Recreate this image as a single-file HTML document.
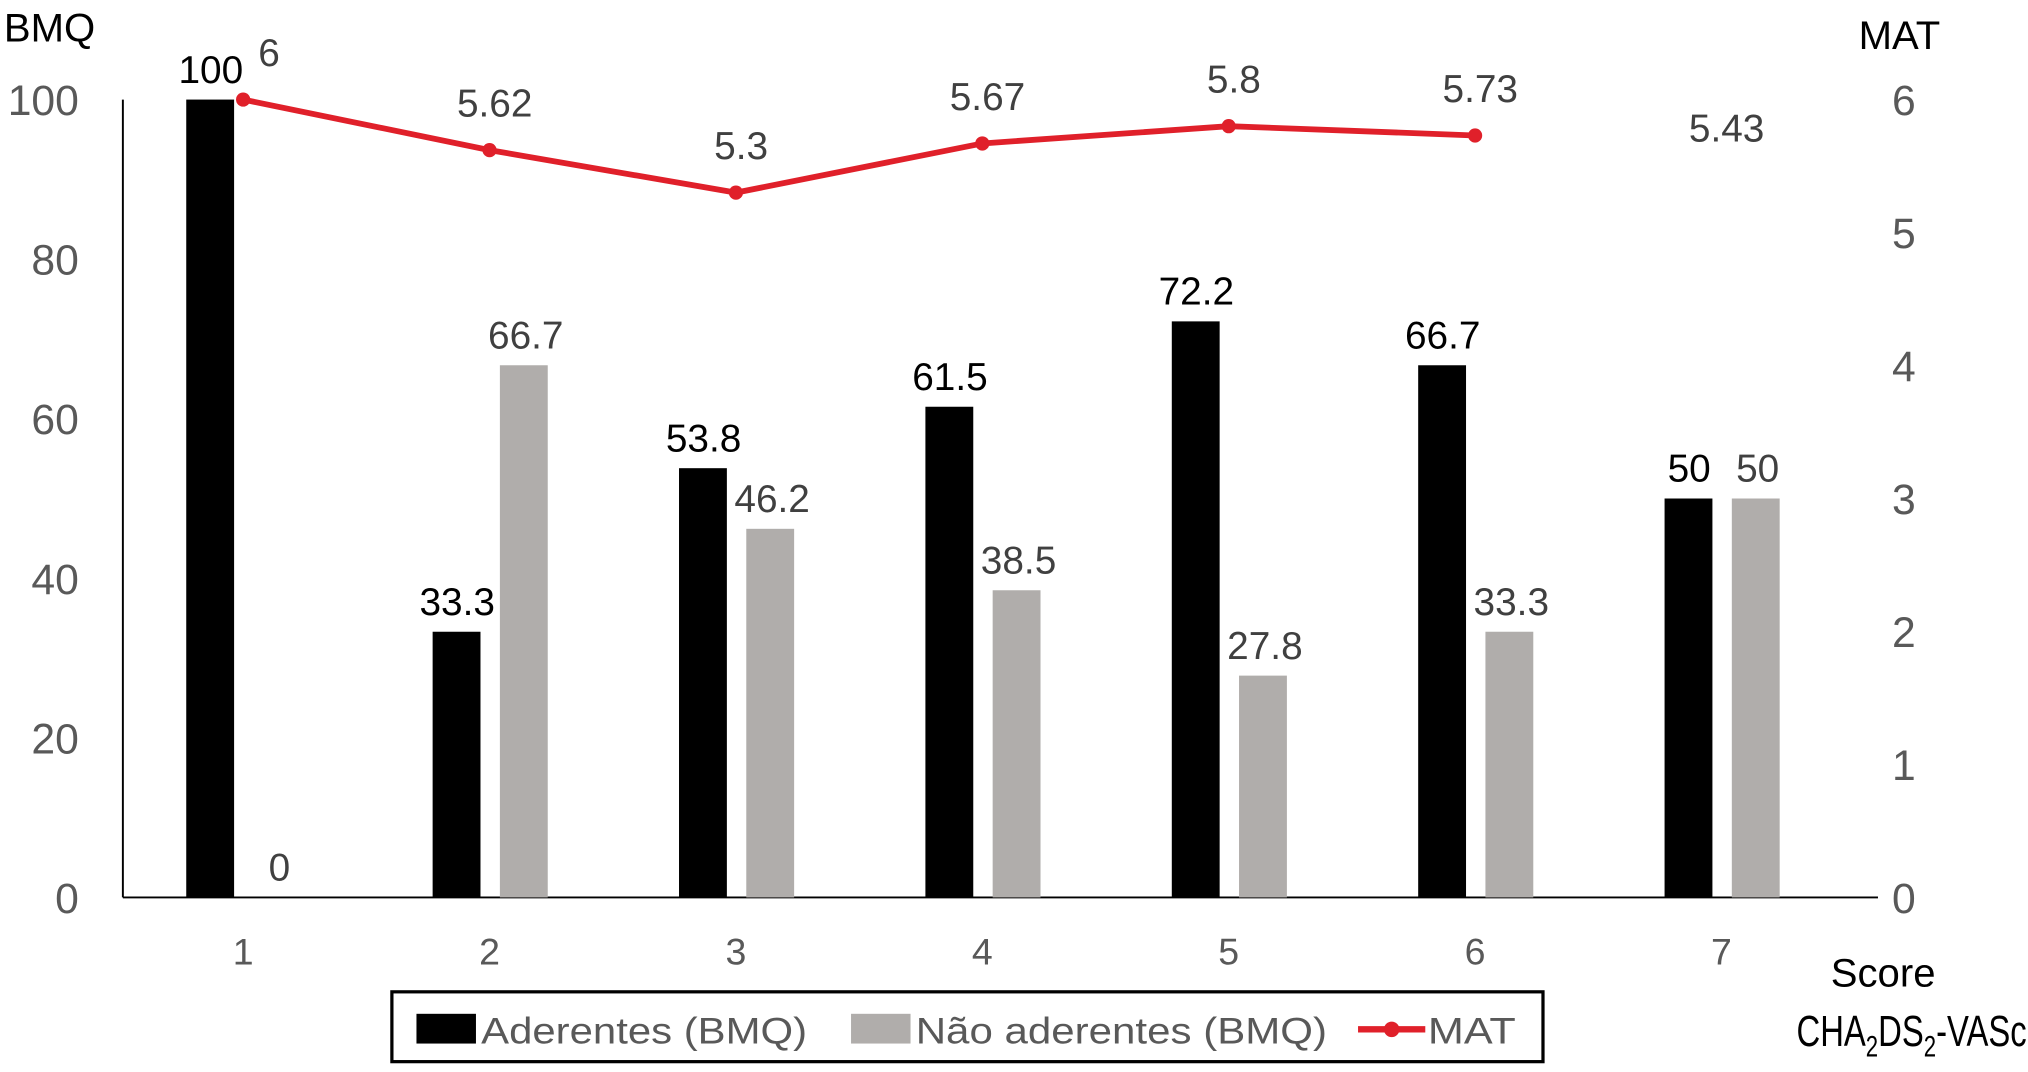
<!DOCTYPE html>
<html><head><meta charset="utf-8"><style>
html,body{margin:0;padding:0;background:#fff;}
svg{display:block;font-family:"Liberation Sans",Arial,sans-serif;}
</style></head><body>
<svg id="chart" width="2028" height="1072" viewBox="0 0 1568 829" preserveAspectRatio="none" xmlns="http://www.w3.org/2000/svg">
<g id="axes"></g>
<g id="bars"></g>
<g id="line"></g>
<g id="labels"></g>
<text x="3" y="32" font-size="31" fill="#000">BMQ</text>
<text x="1437" y="38" font-size="31" fill="#000">MAT</text>
<text x="1456" y="763" font-size="31" fill="#000" text-anchor="middle">Score</text>
<text x="1389" y="809" font-size="34" fill="#000" textLength="178" lengthAdjust="spacingAndGlyphs">CHA<tspan font-size="23" dy="8">2</tspan><tspan dy="-8">DS</tspan><tspan font-size="23" dy="8">2</tspan><tspan dy="-8">-VASc</tspan></text>
<g>
<rect x="303" y="767" width="890" height="54" fill="#fff" stroke="#000" stroke-width="2.5"/>
<g>
<rect x="322" y="784" width="46" height="23" fill="#000"/>
<text x="372" y="807" font-size="29" fill="#595959" textLength="252" lengthAdjust="spacingAndGlyphs">Aderentes (BMQ)</text></g>
<g>
<rect x="658" y="784" width="46" height="23" fill="#b0adab"/>
<text x="708" y="807" font-size="29" fill="#595959" textLength="318" lengthAdjust="spacingAndGlyphs">Não aderentes (BMQ)</text></g>
<g>
<line x1="1050" y1="796" x2="1102" y2="796" stroke="#e0202a" stroke-width="5"/>
<circle cx="1076" cy="796" r="6" fill="#e0202a"/>
<text x="1104" y="807" font-size="29" fill="#595959" textLength="68" lengthAdjust="spacingAndGlyphs">MAT</text></g>
</g>
</svg>
<script>
const categories = ["1","2","3","4","5","6","7"];
const aderentes = [100, 33.3, 53.8, 61.5, 72.2, 66.7, 50];
const naoAderentes = [0, 66.7, 46.2, 38.5, 27.8, 33.3, 50];
const mat = [6, 5.62, 5.3, 5.67, 5.8, 5.73, 5.43];
const matDrawn = [true, true, true, true, true, true, false];
const leftTicks = [0, 20, 40, 60, 80, 100];
const rightTicks = [0, 1, 2, 3, 4, 5, 6];

const NS = "http://www.w3.org/2000/svg";
const X0 = 95, X1 = 1452, Y0 = 694, Y1 = 77;
const yL = v => Y0 - (v / 100) * (Y0 - Y1);
const yR = v => Y0 - (v / 6) * (Y0 - Y1);
const step = 190.5;
const xC = i => 188 + i * step;
function mk(tag, attrs, parent) {
  const e = document.createElementNS(NS, tag);
  for (const k in attrs) e.setAttribute(k, attrs[k]);
  parent.appendChild(e);
  return e;
}
const axes = document.getElementById('axes');
const bars = document.getElementById('bars');
const line = document.getElementById('line');
const labels = document.getElementById('labels');

let a = mk('line', {x1: X0, y1: Y1, x2: X0, y2: Y0, stroke: '#000', 'stroke-width': 1.5}, axes);


a = mk('line', {x1: X0, y1: Y0, x2: X1, y2: Y0, stroke: '#000', 'stroke-width': 1.5}, axes);



leftTicks.forEach(t => {
  const e = mk('text', {x: 61, y: yL(t) + 12, 'font-size': 33, fill: '#595959', 'text-anchor': 'end'}, axes);
  e.textContent = t;
  
  
});
rightTicks.forEach(t => {
  const e = mk('text', {x: 1472, y: yR(t) + 12, 'font-size': 33, fill: '#595959', 'text-anchor': 'middle'}, axes);
  e.textContent = t;
  
  
});
categories.forEach((c, i) => {
  const e = mk('text', {x: xC(i), y: 746, 'font-size': 29, fill: '#595959', 'text-anchor': 'middle'}, axes);
  e.textContent = c;
  
  
});

categories.forEach((c, i) => {
  const b1 = mk('rect', {x: xC(i) - 44, y: yL(aderentes[i]), width: 37, height: Y0 - yL(aderentes[i]), fill: '#000'}, bars);
  
  
  const b2 = mk('rect', {x: xC(i) + 8, y: yL(naoAderentes[i]), width: 37, height: Y0 - yL(naoAderentes[i]), fill: '#b0adab'}, bars);
  
  
  const l1 = mk('text', {x: xC(i) - 25, y: yL(aderentes[i]) - 13, 'font-size': 30, fill: '#000', 'text-anchor': 'middle'}, labels);
  l1.textContent = aderentes[i];
  
  
  const l2 = mk('text', {x: xC(i) + 28, y: yL(naoAderentes[i]) - 13, 'font-size': 30, fill: '#404040', 'text-anchor': 'middle'}, labels);
  l2.textContent = naoAderentes[i];
  
  
});

const pts = [];
mat.forEach((v, i) => { if (matDrawn[i]) pts.push(xC(i) + ',' + yR(v)); });
const pl = mk('polyline', {points: pts.join(' '), fill: 'none', stroke: '#e0202a', 'stroke-width': 4.5}, line);


mat.forEach((v, i) => {
  if (matDrawn[i]) {
    const c = mk('circle', {cx: xC(i), cy: yR(v), r: 5.5, fill: '#e0202a'}, line);
    
    
  }
  const dx = i === 0 ? 20 : 4;
  const t = mk('text', {x: xC(i) + dx, y: yR(v) - 26, 'font-size': 30, fill: '#404040', 'text-anchor': 'middle'}, labels);
  t.textContent = v;
  
  
});
</script>
</body></html>
